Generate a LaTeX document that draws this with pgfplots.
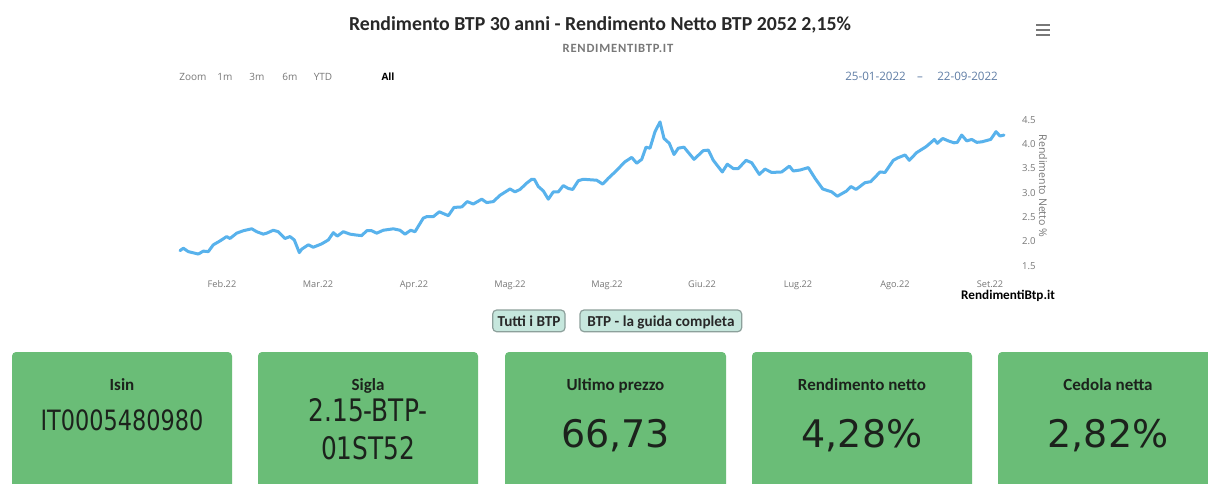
\documentclass[border=0pt]{standalone}
\usepackage{pgfplots}
\pgfplotsset{compat=1.18}
\usepackage{fontspec}
\setmainfont{Carlito}
\newfontfamily\dv{DejaVu Sans}
\newfontfamily\dvc[FakeStretch=0.8]{DejaVu Sans}
\newfontfamily\os{Open Sans}
\newfontfamily\subf[LetterSpace=6]{Carlito}
\definecolor{ln}{RGB}{88,178,236}
\definecolor{tickc}{RGB}{120,120,120}
\definecolor{datec}{RGB}{95,125,165}
\definecolor{boxg}{RGB}{106,189,119}
\definecolor{btnf}{RGB}{198,231,221}
\definecolor{btnd}{RGB}{140,160,155}
\definecolor{titlec}{RGB}{40,40,40}
\definecolor{boxt}{RGB}{28,34,28}
\begin{document}
\begin{tikzpicture}
\useasboundingbox (0,0) rectangle (604pt,241.5pt);
\fill[white] (0,0) rectangle (604pt,241.5pt);
\begin{axis}[
  at={(89pt,108.65pt)}, anchor=south west,
  scale only axis, width=414.5pt, height=72.85pt,
  xmin=178, xmax=1007, ymin=1.5, ymax=4.5,
  axis line style={draw=none}, tick style={draw=none},
  xtick={222,318,414,510,607,702,798,895,990},
  xticklabels={Feb.22,Mar.22,Apr.22,Mag.22,Mag.22,Giu.22,Lug.22,Ago.22,Set.22},
  ytick={1.5,2.0,2.5,3.0,3.5,4.0,4.5},
  yticklabel pos=right,
  /pgf/number format/assume math mode=true,
  /pgf/number format/.cd, fixed, fixed zerofill, precision=1, /pgfplots/.cd,
  xticklabel style={font=\os\fontsize{4.6}{5}\selectfont, text=tickc, anchor=base, yshift=-11.1pt},
  yticklabel style={font=\os\fontsize{4.8}{5}\selectfont, text=tickc, anchor=west, xshift=4pt},
  clip=false,
]
\addplot[ln, line width=1.5pt, line join=round, line cap=round] coordinates {
(180,1.81) (183.3,1.86) (188.3,1.79) (198.3,1.74) (203.3,1.80) (208.3,1.79)
(213.3,1.93) (220,2.01) (226.7,2.10) (230,2.06) (236.7,2.17) (243.3,2.22)
(251.7,2.26) (256.7,2.20) (263.3,2.15) (266.7,2.17) (273.3,2.23) (278.3,2.20)
(285,2.06) (290,2.10) (294.3,2.03) (299.3,1.77) (301.7,1.84) (308.3,1.93)
(313.3,1.88) (321.7,1.95) (328.3,2.03) (333.3,2.18) (337.3,2.11) (343.3,2.20)
(350,2.15) (356.7,2.13) (361.7,2.12) (366.7,2.22) (371.7,2.22) (376.7,2.17)
(383.3,2.23) (393.3,2.26) (400,2.23) (405,2.15) (410.7,2.23) (415,2.20)
(423.3,2.48) (426.7,2.51) (433.3,2.51) (439.3,2.61) (448.3,2.53) (454,2.70)
(461.7,2.71) (467.3,2.82) (473.3,2.77) (481.7,2.87) (486.7,2.80) (493.3,2.82)
(500,2.95) (510,3.08) (515,3.02) (520,3.07) (526.7,3.20) (531.7,3.28)
(534.3,3.28) (538.3,3.13) (543.3,3.04) (548.3,2.87) (553.3,3.02) (558.3,3.02)
(563.3,3.15) (568.3,3.09) (572.7,3.07) (578.3,3.25) (583.3,3.28) (590,3.27)
(596.7,3.26) (602.7,3.18) (608.3,3.30) (615,3.43) (625,3.64) (631.7,3.73)
(636.7,3.61) (641.7,3.69) (646,3.94) (650,3.92) (655,4.26) (660,4.46)
(664,4.12) (669.3,4.02) (674,3.79) (678.3,3.92) (684,3.94) (694,3.69)
(703.3,3.87) (708.3,3.88) (713.3,3.67) (722.3,3.43) (727.3,3.59) (733.3,3.50)
(738.3,3.50) (746,3.67) (751.7,3.62) (759.3,3.38) (765,3.49) (771.7,3.42)
(781.7,3.43) (789.3,3.55) (793.3,3.45) (800,3.47) (808.3,3.52) (815,3.30)
(822.7,3.08) (831.7,3.02) (837.3,2.93) (846.7,3.04) (851,3.13) (856,3.07)
(865,3.21) (870.7,3.23) (880,3.43) (885,3.42) (893.3,3.67) (897.7,3.72)
(905,3.78) (909.3,3.67) (916.7,3.83) (926,3.95) (931.7,4.05) (934.3,4.10)
(937.3,4.02) (942.7,4.12) (948.3,4.07) (954,4.03) (957.3,4.04) (961.7,4.19)
(966.7,4.07) (971.7,4.10) (976.7,4.04) (981.7,4.05) (990.7,4.10) (996,4.26)
(1000,4.17) (1004,4.19)
};
\end{axis}
\begin{scope}[x=0.5pt, y=-0.5pt, shift={(0,241.5pt)}]
\clip (0,0) rectangle (1208,483);
% title
\node[anchor=base, font=\bfseries\fontsize{9.9}{11}\selectfont, text=titlec, inner sep=0] at (600,31) {Rendimento BTP 30 anni - Rendimento Netto BTP 2052 2,15\%};
\node[anchor=base, font=\subf\bfseries\fontsize{6.3}{7}\selectfont, text=tickc, inner sep=0] at (618,53) {RENDIMENTIBTP.IT};
% menu icon
\foreach \yy in {25,30,35} \draw[line width=1pt, color=tickc] (1036,\yy) -- (1050,\yy);
% range selector
\begin{scope}[every node/.style={anchor=base, inner sep=0, font=\os\fontsize{5}{6}\selectfont, text=tickc}]
\node at (193,81) {Zoom};
\node at (225,81) {1m};
\node at (257,81) {3m};
\node at (290,81) {6m};
\node at (323,81) {YTD};
\node[font=\os\bfseries\fontsize{5}{6}\selectfont, text=black] at (388,81) {All};
\node[text=datec, font=\os\fontsize{5.8}{6}\selectfont] at (875.5,81) {25-01-2022};
\node[text=datec, font=\os\fontsize{5.8}{6}\selectfont] at (920,81) {–};
\node[text=datec, font=\os\fontsize{5.8}{6}\selectfont] at (967.5,81) {22-09-2022};
\end{scope}
% y label
\node[rotate=-90, font=\os\fontsize{5.3}{6}\selectfont, text=tickc, inner sep=0] at (1043,186) {Rendimento Netto \%};
% credit
\node[anchor=base, font=\bfseries\fontsize{6.6}{7}\selectfont, text=black, inner sep=0] at (1008,299) {RendimentiBtp.it};
% buttons
\draw[fill=btnf, draw=btnd, line width=0.6pt, rounded corners=2pt] (492.7,310) rectangle (565,331.7);
\draw[fill=btnf, draw=btnd, line width=0.6pt, rounded corners=2pt] (580,310) rectangle (741.7,331.7);
\node[anchor=base, inner sep=0, font=\bfseries\fontsize{7.6}{8}\selectfont, text=titlec] at (529,326) {Tutti i BTP};
\node[anchor=base, inner sep=0, font=\bfseries\fontsize{7.6}{8}\selectfont, text=titlec] at (661,326) {BTP - la guida completa};
% boxes
\foreach \xa/\xb in {12/232, 258/478, 505/726, 752/972, 998/1218}
  \fill[boxg, rounded corners=2pt] (\xa,352) rectangle (\xb,500);
\begin{scope}[every node/.style={anchor=base, inner sep=0, font=\bfseries\fontsize{8.5}{9}\selectfont, text=boxt}]
\node at (122,390) {Isin};
\node at (368,390) {Sigla};
\node at (615.5,390) {Ultimo prezzo};
\node at (862,390) {Rendimento netto};
\node at (1108,390) {Cedola netta};
\end{scope}
\node[anchor=base, inner sep=0, font=\dvc\fontsize{14}{16}\selectfont, text=boxt] at (122,430) {IT0005480980};
\node[anchor=base, inner sep=0, font=\dvc\fontsize{15.5}{16}\selectfont, text=boxt] at (368,421) {2.15-BTP-};
\node[anchor=base, inner sep=0, font=\dvc\fontsize{15.5}{16}\selectfont, text=boxt] at (368,459) {01ST52};
\node[anchor=base, inner sep=0, font=\dv\fontsize{19}{20}\selectfont, text=boxt] at (615.5,447) {66,73};
\node[anchor=base, inner sep=0, font=\dv\fontsize{19}{20}\selectfont, text=boxt] at (862,447) {4,28\%};
\node[anchor=base, inner sep=0, font=\dv\fontsize{19}{20}\selectfont, text=boxt] at (1108,447) {2,82\%};
\end{scope}
\end{tikzpicture}
\end{document}
